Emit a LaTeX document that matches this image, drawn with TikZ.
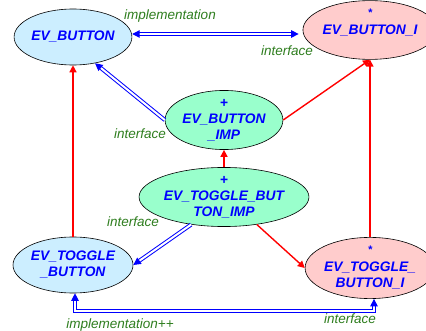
\documentclass[tikz,border=0pt]{standalone}
\usepackage{fontspec}
\setmainfont{Liberation Sans}
\usetikzlibrary{arrows.meta, shapes.geometric}
\definecolor{clsblue}{HTML}{CCEEFF}
\definecolor{clspink}{HTML}{FFCCCC}
\definecolor{clsgreen}{HTML}{99FFCC}
\definecolor{lblgreen}{HTML}{2E7D1E}

\begin{document}
\begin{tikzpicture}[x=1pt, y=-1pt, >=Latex, line cap=butt, line join=miter,
	cls/.style={ellipse, draw=black, line width=0.6pt, inner sep=0pt, align=center,
		text=blue, font=\fontsize{13.8}{16}\selectfont\bfseries\itshape},
	lbl/.style={text=lblgreen, font=\fontsize{13.5}{15}\selectfont\itshape},
	inh/.style={draw=red, line width=1.4pt, -{Triangle[width=7pt,length=7pt]}},
	cli/.style={draw=blue, double=white, line width=1pt, double distance=2pt,
		-{Triangle[width=7.5pt,length=7.5pt]}},
	clib/.style={cli, {Triangle[width=7.5pt,length=7.5pt]}-{Triangle[width=7.5pt,length=7.5pt]}}]
\useasboundingbox (0,0) rectangle (426,331);
%========================
% classes
%========================
\node[cls, fill=clsblue, minimum width=106pt, minimum height=56pt] (b) at (73,37) {EV\_BUTTON};
\node[cls, fill=clspink, minimum width=104pt, minimum height=56pt] (bi) at (370,30)
	{{\fontsize{11}{11}\selectfont *}\\[2pt]EV\_BUTTON\_I\\\mbox{}};
\node[cls, fill=clsgreen, minimum width=104pt, minimum height=56pt] (imp) at (224,120)
	{+\\EV\_BUTTON\\\_IMP};
\node[cls, fill=clsgreen, minimum width=122pt, minimum height=58pt] (tbimp) at (224,197)
	{+\\EV\_TOGGLE\_BUT\\TON\_IMP};
\node[cls, fill=clsblue, minimum width=120pt, minimum height=56pt] (tb) at (73,265)
	{EV\_TOGGLE\\\_BUTTON};
\node[cls, fill=clspink, minimum width=116pt, minimum height=57pt] (tbi) at (370,268)
	{{\fontsize{11}{11}\selectfont *}\\[2pt]EV\_TOGGLE\_\\BUTTON\_I};

%========================
% inheritance (red)
%========================
\draw[inh] (imp.east) -- (bi.south);
\draw[inh] (tbimp.north) -- (imp.south);
\draw[inh] (tb.north) -- (b.south);
\draw[inh] (tbi.north) -- (bi.south);
\draw[inh] (tbimp.-40) -- (tbi.west);

%========================
% client links (blue, double)
%========================
\draw[clib] (b.east |- 0,34) -- ([xshift=-4pt]bi.west |- 0,34);
\draw[cli] (imp.west) -- (b.-50);
\draw[cli] (tbimp.220) -- (tb.east);
\coordinate (lowl) at ([xshift=2pt]tb.south |- 0,311);
\coordinate (lowr) at ([xshift=4pt]tbi.south |- 0,311);
\draw[clib] ([xshift=2pt]tb.south) -- (lowl) -- (lowr) -- ([xshift=4pt]tbi.south);

% labels
\node[lbl] (l1) at (170,16) {implementation};
\node[lbl] (l2) at (287,51) {interface};
\node[lbl] (l3) at (140,134) {interface};
\node[lbl] (l4) at (133,222) {interface};
\node[lbl] (l5) at (120,325) {implementation++};
\node[lbl] (l6) at (350,319) {interface};
\end{tikzpicture}
\end{document}
